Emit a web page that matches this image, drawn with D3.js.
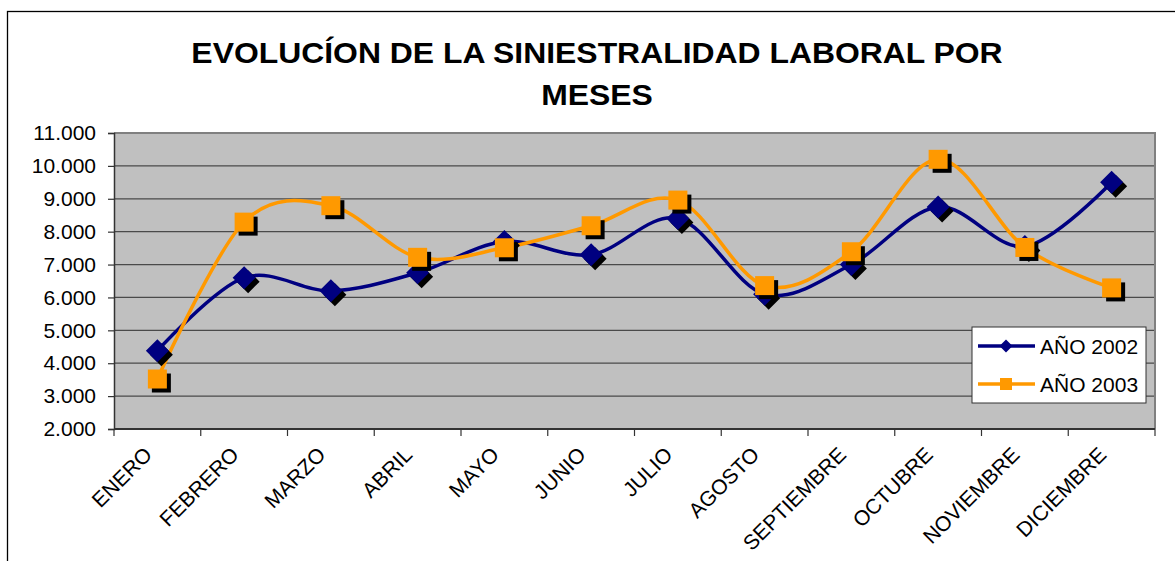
<!DOCTYPE html>
<html lang="es">
<head>
    <meta charset="UTF-8">
    <title>Evolución de la siniestralidad laboral por meses</title>
    <script src="https://d3js.org/d3.v7.min.js"></script>
    <style>
        body { margin: 0; background: #fff; }
        text { font-family: "Liberation Sans", Arial, sans-serif; fill: #000; }
        .title { font-size: 29px; font-weight: bold; }
        .tick-label { font-size: 21px; }
        .legend-label { font-size: 21px; }
    </style>
</head>
<body>
<div id="chart"></div>
<script>
    const meses = ["ENERO", "FEBRERO", "MARZO", "ABRIL", "MAYO", "JUNIO", "JULIO",
        "AGOSTO", "SEPTIEMBRE", "OCTUBRE", "NOVIEMBRE", "DICIEMBRE"];
    const anio2002 = [4380, 6600, 6200, 6750, 7700, 7300, 8400, 6100, 7000, 8750, 7550, 9500];
    const anio2003 = [3520, 8290, 8790, 7220, 7510, 8180, 8960, 6360, 7390, 10200, 7520, 6290];
    const yTicks = [2000, 3000, 4000, 5000, 6000, 7000, 8000, 9000, 10000, 11000];
    const series = [
        { name: "AÑO 2002", values: anio2002, color: "#000080", shape: "diamond" },
        { name: "AÑO 2003", values: anio2003, color: "#FF9900", shape: "square" }
    ];

    const W = 1175, H = 561;
    const plot = { left: 114, right: 1155, top: 133, bottom: 429 };

    const svg = d3.select("#chart").append("svg")
        .attr("width", W)
        .attr("height", H);

    // outer chart frame (runs off the picture to the right and bottom)
    svg.append("rect")
        .attr("x", 7.5).attr("y", 11.5)
        .attr("width", 1300).attr("height", 700)
        .attr("fill", "#fff")
        .attr("stroke", "#000")
        .attr("stroke-width", 1.3);

    // title, a little wider than the plain font
    const title = svg.append("text")
        .attr("class", "title")
        .attr("text-anchor", "middle")
        .attr("transform", "translate(597,0) scale(1.1,1)");
    title.append("tspan").attr("x", 0).attr("y", 63).text("EVOLUCÍON DE LA SINIESTRALIDAD LABORAL POR");
    title.append("tspan").attr("x", 0).attr("y", 105).text("MESES");

    const x = d3.scaleBand()
        .domain(meses)
        .range([plot.left, plot.right]);

    const y = d3.scaleLinear()
        .domain([2000, 11000])
        .range([plot.bottom, plot.top]);

    const fmt = d => d3.format(",")(d).replace(/,/g, ".");

    // plot background
    svg.append("rect")
        .attr("x", plot.left).attr("y", plot.top)
        .attr("width", plot.right - plot.left)
        .attr("height", plot.bottom - plot.top)
        .attr("fill", "#C0C0C0");

    // gridlines
    svg.append("g")
        .selectAll("line")
        .data(yTicks)
        .enter().append("line")
        .attr("x1", plot.left).attr("x2", plot.right)
        .attr("y1", d => y(d)).attr("y2", d => y(d))
        .attr("stroke", "#4a4a4a")
        .attr("stroke-width", 1.2);

    // plot border (gray)
    svg.append("path")
        .attr("d", `M${plot.left},${plot.top}H${plot.right}V${plot.bottom}`)
        .attr("fill", "none")
        .attr("stroke", "#808080")
        .attr("stroke-width", 2);

    // y axis
    const yAxis = svg.append("g")
        .attr("transform", `translate(${plot.left},0)`)
        .call(d3.axisLeft(y).tickValues(yTicks).tickFormat(fmt).tickSize(6).tickPadding(12));
    yAxis.select(".domain").attr("stroke", "#333").attr("stroke-width", 1.5);
    yAxis.selectAll(".tick line").attr("stroke", "#333").attr("stroke-width", 1.2);
    yAxis.selectAll(".tick text")
        .attr("class", "tick-label")
        .attr("font-family", null).attr("font-size", null);

    // x axis: ticks at band edges
    const edges = meses.map(m => x(m)).concat([x.range()[1]]);
    svg.append("line")
        .attr("x1", plot.left).attr("x2", plot.right)
        .attr("y1", plot.bottom).attr("y2", plot.bottom)
        .attr("stroke", "#333").attr("stroke-width", 1.8);
    svg.append("g")
        .selectAll("line")
        .data(edges)
        .enter().append("line")
        .attr("x1", d => d).attr("x2", d => d)
        .attr("y1", plot.bottom).attr("y2", plot.bottom + 7)
        .attr("stroke", "#333").attr("stroke-width", 1.2);

    svg.append("g")
        .selectAll("text")
        .data(meses)
        .enter().append("text")
        .attr("class", "tick-label")
        .attr("text-anchor", "end")
        .attr("transform", d => `translate(${x(d) + x.bandwidth() / 2 - 4},${plot.bottom + 27}) rotate(-45)`)
        .text(d => d);

    // lines
    const line = d3.line()
        .x((d, i) => x(meses[i]) + x.bandwidth() / 2)
        .y(d => y(d))
        .curve(d3.curveCatmullRom.alpha(0));

    const markerPath = shape => shape === "diamond"
        ? "M0,-11.5L11.5,0L0,11.5L-11.5,0Z"
        : "M-9.5,-9.5H9.5V9.5H-9.5Z";

    series.forEach(s => {
        svg.append("path")
            .datum(s.values)
            .attr("d", line)
            .attr("fill", "none")
            .attr("stroke", s.color)
            .attr("stroke-width", 3.5);
    });

    series.forEach(s => {
        const g = svg.append("g");
        // drop shadow
        g.selectAll(".shadow")
            .data(s.values)
            .enter().append("path")
            .attr("d", markerPath(s.shape))
            .attr("transform", (d, i) => `translate(${x(meses[i]) + x.bandwidth() / 2 + 4},${y(d) + 4})`)
            .attr("fill", "#000");
        g.selectAll(".mark")
            .data(s.values)
            .enter().append("path")
            .attr("d", markerPath(s.shape))
            .attr("transform", (d, i) => `translate(${x(meses[i]) + x.bandwidth() / 2},${y(d)})`)
            .attr("fill", s.color);
    });

    // legend
    const legend = svg.append("g").attr("transform", "translate(972,327)");
    legend.append("rect")
        .attr("width", 174).attr("height", 76)
        .attr("fill", "#fff")
        .attr("stroke", "#333")
        .attr("stroke-width", 1);
    series.forEach((s, i) => {
        const cy = 19 + i * 38;
        legend.append("line")
            .attr("x1", 6).attr("x2", 63)
            .attr("y1", cy).attr("y2", cy)
            .attr("stroke", s.color).attr("stroke-width", 3.5);
        legend.append("path")
            .attr("d", s.shape === "diamond" ? "M0,-6.5L6.5,0L0,6.5L-6.5,0Z" : "M-6,-6H6V6H-6Z")
            .attr("transform", `translate(34,${cy})`)
            .attr("fill", s.color);
        legend.append("text")
            .attr("class", "legend-label")
            .attr("x", 68).attr("y", cy)
            .attr("dy", "0.36em")
            .text(s.name);
    });
</script>
</body>
</html>
